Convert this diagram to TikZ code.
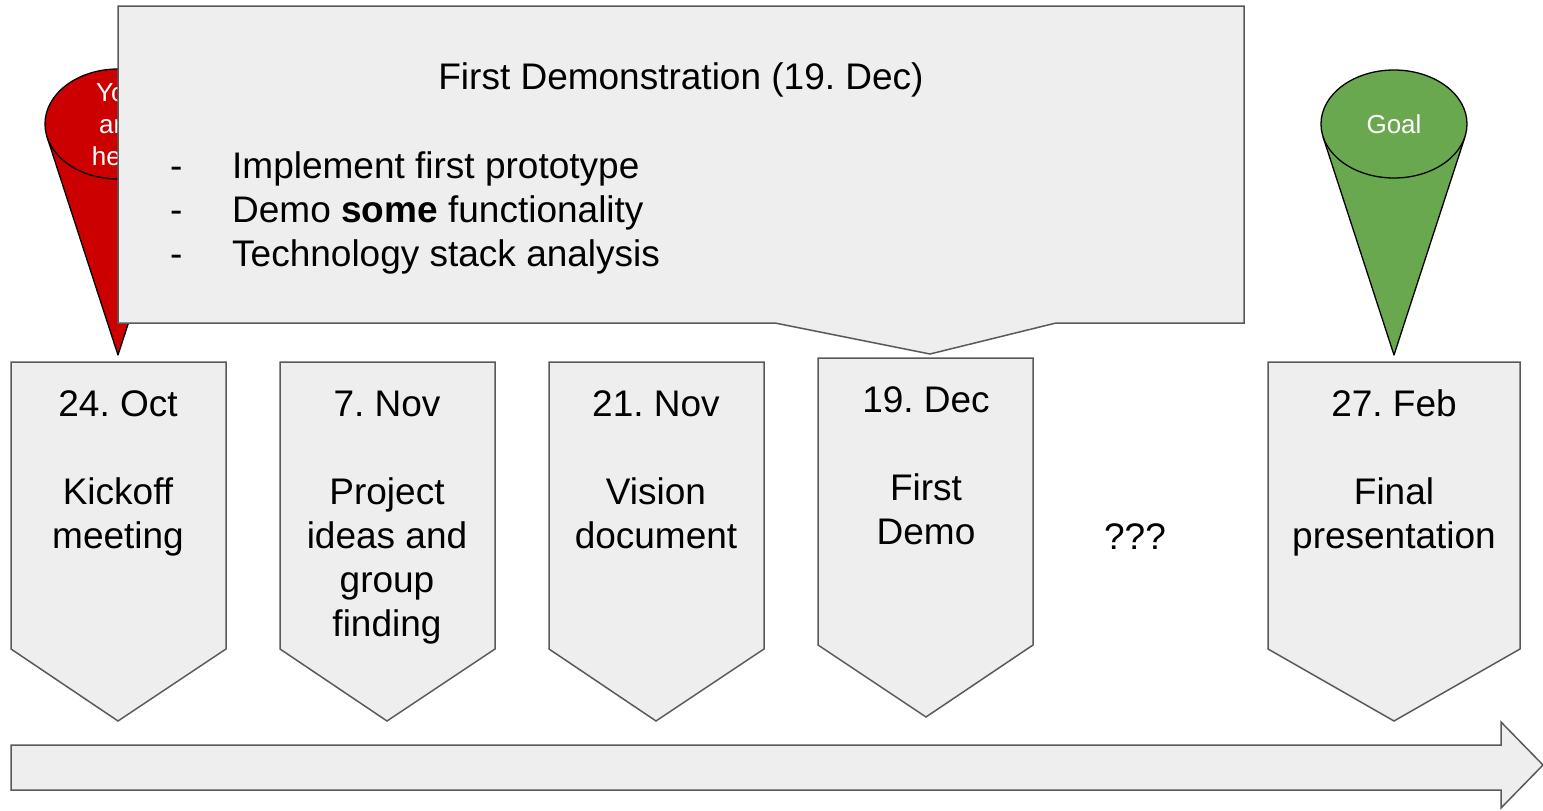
\documentclass[tikz,border=0pt]{standalone}
\usepackage{fontspec}
\setmainfont{Liberation Sans}
\frenchspacing
\definecolor{boxfill}{HTML}{EEEEEE}
\definecolor{boxline}{HTML}{595959}
\definecolor{conered}{HTML}{CC0000}
\definecolor{conegreen}{HTML}{6AA84F}
\newcommand{\bigfnt}{\fontsize{37}{44}\selectfont}
\newcommand{\smallfnt}{\fontsize{26}{32}\selectfont}
\begin{document}
\begin{tikzpicture}[x=1pt,y=-1pt,
  shapebox/.style={fill=boxfill,draw=boxline,line width=1.5pt,line join=miter},
  conebody/.style={draw=black,line width=1.3pt,line join=round},
  boxtext/.style={anchor=north,inner sep=0pt,align=center,font=\bigfnt,text=black},
  conetext/.style={inner sep=0pt,align=center,font=\smallfnt,text=white}]
\useasboundingbox (0,0) rectangle (1543,811);

% timeline arrow
\path[shapebox] (11,745) -- (1501,745) -- (1501,722) -- (1543,765) -- (1501,808) -- (1501,790) -- (11,790) -- cycle;

% milestone boxes
\path[shapebox] (11,362) -- (226,362) -- (226,649) -- (118,721) -- (11,649) -- cycle;
\path[shapebox] (280,362) -- (495,362) -- (495,649) -- (387,721) -- (280,649) -- cycle;
\path[shapebox] (549,362) -- (764,362) -- (764,649) -- (656,721) -- (549,649) -- cycle;
\path[shapebox] (818,358) -- (1033,358) -- (1033,645) -- (926,717) -- (818,645) -- cycle;
\path[shapebox] (1268,362) -- (1520,362) -- (1520,649) -- (1394,721) -- (1268,649) -- cycle;

\node[boxtext] (oct) at (118,385) {\strut 24. Oct\\[44pt]Kickoff\\meeting};
\node[boxtext] (nov7) at (387,385) {\strut 7. Nov\\[44pt]Project\\ideas and\\group\\finding};
\node[boxtext] (nov21) at (656,385) {\strut 21. Nov\\[44pt]Vision\\document};
\node[boxtext] (dec) at (926,381) {\strut 19. Dec\\[44pt]First\\Demo};
\node[boxtext] (feb) at (1394,385) {\strut 27. Feb\\[44pt]Final\\presentation};
\node[anchor=base,inner sep=0pt,font=\bigfnt] (qqq) at (1135,549) {???};

% red cone (You are here)
\path[conebody,fill=conered] (47.1,137.1) -- (118,355) -- (188.9,137.1);
\path[conebody,fill=conered] (118,124) ellipse [x radius=73,y radius=55];
\node[conetext,anchor=north] (here) at (118,78.6) {\strut You\\are\\here};

% green cone (Goal)
\path[conebody,fill=conegreen] (1323.1,137.1) -- (1394,355) -- (1464.9,137.1);
\path[conebody,fill=conegreen] (1394,124) ellipse [x radius=73,y radius=54];
\node[conetext,anchor=base] (goal) at (1394,133) {Goal};

% callout
\path[shapebox] (118,6) -- (1244,6) -- (1244,323) -- (1056,323) -- (930,354) -- (775,323) -- (118,323) -- cycle;
\node[anchor=base,inner sep=0pt,font=\bigfnt] (title) at (681,89) {First Demonstration (19. Dec)};
\node[anchor=base west,inner sep=0pt,align=left,font=\bigfnt] (items) at (170,266)
  {\makebox[62pt][l]{-}Implement first prototype\\
   \makebox[62pt][l]{-}Demo \textbf{some} functionality\\
   \makebox[62pt][l]{-}Technology stack analysis};
\end{tikzpicture}
\end{document}
